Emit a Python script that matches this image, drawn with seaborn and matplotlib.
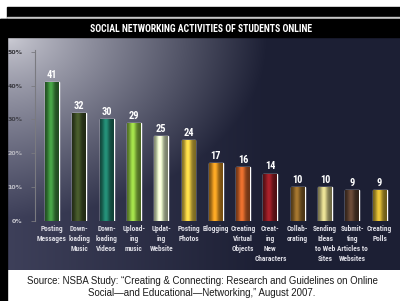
import numpy as np
import pandas as pd
import matplotlib
matplotlib.use("Agg")
import matplotlib.pyplot as plt
from matplotlib.patches import Rectangle
from matplotlib import font_manager, colors as mcolors
import seaborn as sns

# ---- data ----
categories = ["Posting\nMessages", "Down-\nloading\nMusic", "Down-\nloading\nVideos",
              "Upload-\ning\nmusic", "Updat-\ning\nWebsite", "Posting\nPhotos", "Blogging",
              "Creating\nVirtual\nObjects", "Creat-\ning\nNew\nCharacters", "Collab-\norating",
              "Sending\nIdeas\nto Web\nSites", "Submit-\nting\nArticles to\nWebsites",
              "Creating\nPolls"]
values = [41, 32, 30, 29, 25, 24, 17, 16, 14, 10, 10, 9, 9]
bar_colors = ["#3c8c3c", "#3e4e26", "#1f7a66", "#8cc040", "#dce8c0", "#e0c040",
              "#d89020", "#c86028", "#901c24", "#8c6428", "#c8c080", "#5c4030", "#c8a830"]
ytick_vals = [0, 10, 20, 30, 40, 50]
ytick_labels = ["0%", "10%", "20%", "30%", "40%", "50%"]
title = "SOCIAL NETWORKING ACTIVITIES OF STUDENTS ONLINE"
source = ("Source: NSBA Study: \u201cCreating & Connecting: Research and Guidelines on Online\n"
          "Social\u2014and Educational\u2014Networking,\u201d August 2007.")

# pick a condensed font if one is installed
entries = font_manager.fontManager.ttflist
names = {f.name for f in entries}
cond_family, cond_stretch, lab_size = "Liberation Sans", "normal", 4.8
if "Liberation Sans Narrow" in names:
    cond_family, lab_size = "Liberation Sans Narrow", 5.3
elif "Roboto Condensed" in names:
    cond_family, lab_size = "Roboto Condensed", 5.3
elif any(f.name == "DejaVu Sans" and "ondensed" in f.fname and f.weight in (700, "bold")
         for f in entries):
    cond_family, cond_stretch, lab_size = "DejaVu Sans", "condensed", 5.0

sns.set_theme(style="white")
plt.rcParams["font.family"] = ["DejaVu Sans"]

fig = plt.figure(figsize=(4, 3.01), dpi=100)
fig.patch.set_facecolor("white")

# ---- background / frame ----
bg = fig.add_axes([0, 0, 1, 1], zorder=0)
bg.axis("off")

H, W = 233, 393
yy, xx = np.mgrid[0:H, 0:W].astype(float)
d = np.sqrt((xx / 260.0) ** 2 + (yy / 180.0) ** 2)
t = np.clip(d, 0, 1) ** 0.75
light = np.array([208, 208, 216]) / 255.0
dark_l = np.array([62, 64, 90]) / 255.0
dark_r = np.array([28, 31, 52]) / 255.0
fx = np.clip(xx / 260.0, 0, 1)[..., None]
dark = dark_l * (1 - fx) + dark_r * fx
img = light * (1 - t[..., None]) + dark * t[..., None]
bg.imshow(img, extent=[7, 400, 270, 37], aspect="auto", interpolation="bilinear", zorder=0)
bg.add_patch(Rectangle((7, 7), 393, 10, color="black", zorder=1))
bg.add_patch(Rectangle((7, 17), 393, 2, color="#c8c8c8", zorder=1))
bg.add_patch(Rectangle((0, 19), 400, 18, color="black", zorder=1))
bg.add_patch(Rectangle((0, 19), 7, 282, color="black", zorder=1))
bg.set_xlim(0, 400)
bg.set_ylim(301, 0)

bg.text(201, 28.5, title, color="white", fontsize=7, fontweight="bold",
        family=[cond_family, "DejaVu Sans"], fontstretch=cond_stretch,
        ha="center", va="center")
bg.text(202, 287, source, color="#1a1a1a", fontsize=6.9, family=["Liberation Sans", "DejaVu Sans"],
        ha="center", va="center", linespacing=1.25)

# ---- bar chart ----
ax = fig.add_axes([0.0875, 0.266, 0.9025, 0.568], zorder=2)
ax.patch.set_alpha(0)
df = pd.DataFrame({"cat": categories, "val": values})
sns.barplot(data=df, x="cat", y="val", hue="cat", palette=bar_colors, legend=False,
            width=0.51, ax=ax, saturation=1)

# cylinder shading
prof = np.linspace(0, 1, 60)
shade = 0.55 + 0.65 * np.exp(-((prof - 0.42) / 0.25) ** 2)
for patch, c in zip(ax.patches, bar_colors):
    base = np.array(mcolors.to_rgb(c))
    g = np.clip(base[None, None, :] * shade[None, :, None], 0, 1)
    x0, w, h = patch.get_x(), patch.get_width(), patch.get_height()
    im = ax.imshow(g, extent=[x0, x0 + w, 0, h], aspect="auto", interpolation="bilinear",
                   zorder=3)
    im.set_clip_path(patch)

for cont in ax.containers:
    ax.bar_label(cont, padding=1.5, color="white", fontweight="bold", fontsize=7.5,
                 family=[cond_family, "DejaVu Sans"], fontstretch=cond_stretch)

ax.set_xlim(-0.62, 12.6)
ax.set_ylim(0, 50.5)
ax.set_xlabel("")
ax.set_ylabel("")
ax.set_yticks(ytick_vals)
ax.set_yticklabels(ytick_labels)
ax.set_xticks(range(len(categories)))
ax.set_xticklabels(categories, fontsize=lab_size, fontweight="bold", color="#dcdce4",
                   linespacing=1.3, family=[cond_family, "DejaVu Sans"],
                   fontstretch=cond_stretch)
for s in ["top", "right", "bottom"]:
    ax.spines[s].set_visible(False)
ax.spines["left"].set_color("#7a7a80")
ax.spines["left"].set_linewidth(0.8)
ax.tick_params(axis="x", length=0, pad=3)
ax.tick_params(axis="y", length=3, width=0.6, color="#7a7a80", pad=6, labelsize=4.5, left=True)
ycols = ["#c8c8d0", "#c0c0c8", "#b8b8c0", "#404048", "#3a3a40", "#333338"]
for lab, col in zip(ax.get_yticklabels(), ycols):
    lab.set_color(col)
    lab.set_fontweight("bold")

fig.savefig("out.png", dpi=100)
